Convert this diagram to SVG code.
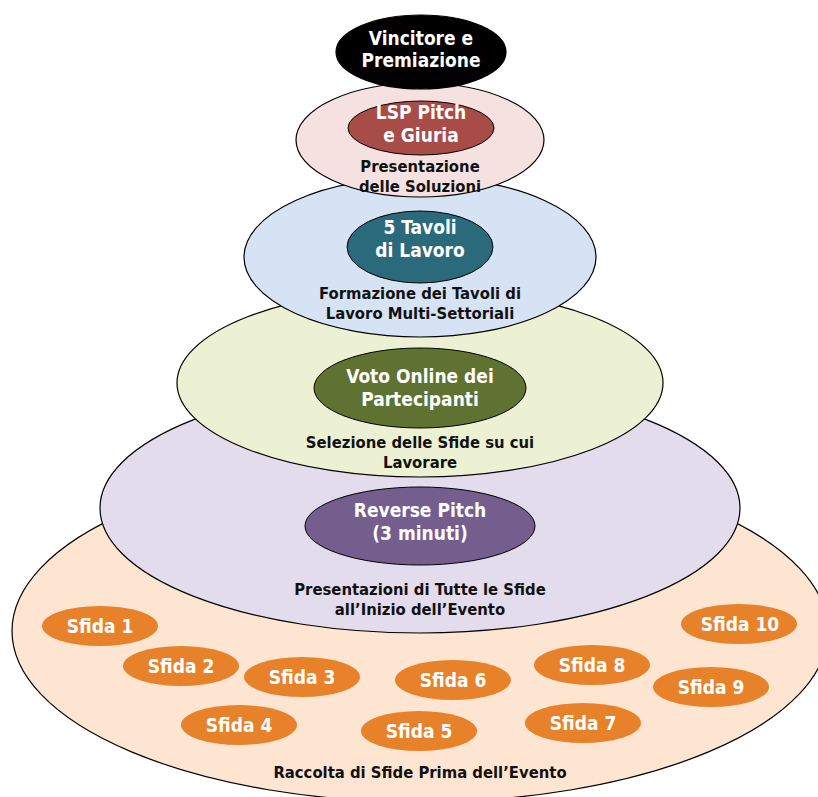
<svg xmlns="http://www.w3.org/2000/svg" width="818" height="797" viewBox="0 0 818 797">
<style>
.ring{stroke:#000;stroke-width:1.2}
.inner{stroke:#000;stroke-width:1}
.lbl{font-family:"DejaVu Sans Condensed","DejaVu Sans",sans-serif;font-weight:bold;font-size:16.5px;fill:#111;text-anchor:middle}
.wt{font-family:"DejaVu Sans Condensed","DejaVu Sans",sans-serif;font-weight:bold;font-size:19px;fill:#fff;text-anchor:middle}
.sf{fill:#e8822a}
.st{font-family:"DejaVu Sans Condensed","DejaVu Sans",sans-serif;font-weight:bold;font-size:19px;fill:#fff;text-anchor:middle}
</style>
<rect width="818" height="797" fill="#fff"/>
<g id="raccolta">
<ellipse class="ring" cx="420" cy="631" rx="408" ry="171" fill="#fde5d2"/>
<text class="lbl" x="420" y="778">Raccolta di Sfide Prima dell’Evento</text>
</g>
<g id="sfide">
<g id="sfida1"><ellipse class="sf" cx="100" cy="626" rx="58" ry="20"/><text class="st" x="100" y="633">Sfida 1</text></g>
<g id="sfida2"><ellipse class="sf" cx="181" cy="666" rx="58" ry="20"/><text class="st" x="181" y="673">Sfida 2</text></g>
<g id="sfida3"><ellipse class="sf" cx="302" cy="677" rx="58" ry="20"/><text class="st" x="302" y="684">Sfida 3</text></g>
<g id="sfida4"><ellipse class="sf" cx="239" cy="725" rx="58" ry="20"/><text class="st" x="239" y="732">Sfida 4</text></g>
<g id="sfida5"><ellipse class="sf" cx="419" cy="731" rx="58" ry="20"/><text class="st" x="419" y="738">Sfida 5</text></g>
<g id="sfida6"><ellipse class="sf" cx="453" cy="680" rx="58" ry="20"/><text class="st" x="453" y="687">Sfida 6</text></g>
<g id="sfida7"><ellipse class="sf" cx="583" cy="723" rx="58" ry="20"/><text class="st" x="583" y="730">Sfida 7</text></g>
<g id="sfida8"><ellipse class="sf" cx="592" cy="665" rx="58" ry="20"/><text class="st" x="592" y="672">Sfida 8</text></g>
<g id="sfida9"><ellipse class="sf" cx="711" cy="687" rx="58" ry="20"/><text class="st" x="711" y="694">Sfida 9</text></g>
<g id="sfida10"><ellipse class="sf" cx="739" cy="624" rx="58" ry="20"/><text class="st" x="740" y="631">Sfida 10</text></g>
</g>
<g id="presentazioni">
<ellipse class="ring" cx="420" cy="508" rx="320" ry="125" fill="#e3dcec"/>
<text class="lbl" x="420" y="595">Presentazioni di Tutte le Sfide</text>
<text class="lbl" x="420" y="615">all’Inizio dell’Evento</text>
</g>
<g id="reverse-pitch">
<ellipse class="inner" cx="420" cy="526" rx="115" ry="39" fill="#745e8e"/>
<text class="wt" x="420" y="517">Reverse Pitch</text>
<text class="wt" x="420" y="540">(3 minuti)</text>
</g>
<g id="selezione">
<ellipse class="ring" cx="420" cy="383" rx="243" ry="94" fill="#ebf1d2"/>
<text class="lbl" x="420" y="448">Selezione delle Sfide su cui</text>
<text class="lbl" x="420" y="468">Lavorare</text>
</g>
<g id="voto">
<ellipse class="inner" cx="420" cy="388" rx="106" ry="40" fill="#5f7232"/>
<text class="wt" x="420" y="383">Voto Online dei</text>
<text class="wt" x="420" y="406">Partecipanti</text>
</g>
<g id="formazione">
<ellipse class="ring" cx="420" cy="257" rx="176" ry="80" fill="#d6e3f5"/>
<text class="lbl" x="420" y="299">Formazione dei Tavoli di</text>
<text class="lbl" x="420" y="319">Lavoro Multi-Settoriali</text>
</g>
<g id="tavoli">
<ellipse class="inner" cx="420" cy="247" rx="73" ry="36" fill="#2b6a7a"/>
<text class="wt" x="420" y="234">5 Tavoli</text>
<text class="wt" x="420" y="257">di Lavoro</text>
</g>
<g id="soluzioni">
<ellipse class="ring" cx="420" cy="140" rx="124" ry="57" fill="#f5e2e0"/>
<text class="lbl" x="420" y="172">Presentazione</text>
<text class="lbl" x="420" y="192">delle Soluzioni</text>
</g>
<g id="lsp">
<ellipse class="inner" cx="421" cy="128" rx="73" ry="27" fill="#a84c48"/>
<text class="wt" x="421" y="119">LSP Pitch</text>
<text class="wt" x="421" y="142">e Giuria</text>
</g>
<g id="vincitore">
<ellipse class="ring" cx="421" cy="52" rx="85" ry="37" fill="#000"/>
<text class="wt" x="421" y="45">Vincitore e</text>
<text class="wt" x="421" y="67">Premiazione</text>
</g>
</svg>
